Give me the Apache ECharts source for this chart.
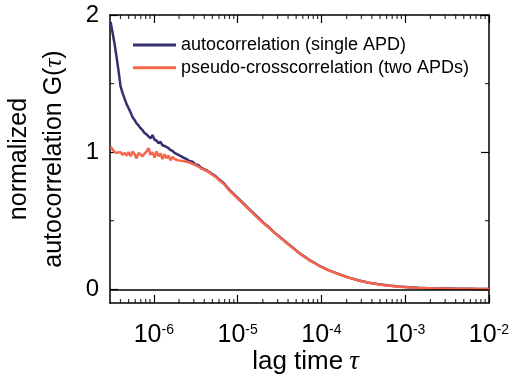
<!DOCTYPE html>
<html>
<head>
<meta charset="utf-8">
<script src="https://cdn.jsdelivr.net/npm/echarts@6/dist/echarts.min.js"></script>
<style>
html,body{margin:0;padding:0;background:#fff;}
#chart{width:512px;height:376px;}
</style>
</head>
<body>
<div id="chart"></div>
<script>
// lag time tau (s)
var tau = [
  3.05e-7, 3.22e-7, 3.40e-7, 3.60e-7, 3.80e-7, 4.01e-7, 4.24e-7, 4.48e-7, 4.73e-7, 5.00e-7,
  5.28e-7, 5.58e-7, 5.89e-7, 6.22e-7, 6.58e-7, 6.95e-7, 7.34e-7, 7.75e-7, 8.19e-7, 8.65e-7,
  9.14e-7, 9.65e-7, 1.019e-6, 1.077e-6, 1.137e-6, 1.202e-6, 1.269e-6, 1.341e-6, 1.416e-6, 1.496e-6,
  1.580e-6, 1.670e-6, 1.764e-6, 1.863e-6, 1.968e-6, 2.079e-6, 2.257e-6, 2.451e-6, 2.661e-6, 2.888e-6,
  3.136e-6, 3.405e-6, 3.698e-6, 4.014e-6, 4.358e-6, 4.732e-6, 5.137e-6, 5.577e-6, 6.055e-6,
  6.946e-6, 7.966e-6, 9.136e-6, 1.048e-5, 1.202e-5, 1.378e-5, 1.580e-5, 1.813e-5, 2.079e-5, 2.385e-5,
  2.735e-5, 3.137e-5, 3.597e-5, 4.125e-5, 4.732e-5, 5.427e-5, 6.224e-5, 7.139e-5, 8.187e-5, 9.389e-5,
  1.077e-4, 1.235e-4, 1.624e-4, 2.137e-4, 2.811e-4, 3.698e-4, 4.864e-4, 6.397e-4, 8.414e-4,
  1.107e-3, 1.456e-3, 1.915e-3, 2.519e-3, 3.313e-3, 4.358e-3, 5.732e-3, 7.541e-3, 1.0e-2
];
// autocorrelation (single APD)
var autoG = [
  1.95, 1.87, 1.79, 1.69, 1.59, 1.48, 1.43, 1.39, 1.35, 1.32,
  1.29, 1.255, 1.235, 1.21, 1.195, 1.175, 1.16, 1.14, 1.13, 1.115,
  1.10, 1.125, 1.09, 1.085, 1.065, 1.075, 1.05, 1.045, 1.035, 1.03,
  1.015, 1.01, 0.995, 0.99, 0.98, 0.972, 0.96, 0.95, 0.935, 0.93,
  0.91, 0.905, 0.885, 0.875, 0.865, 0.85, 0.835, 0.82, 0.80,
  0.77, 0.725, 0.69, 0.655, 0.62, 0.585, 0.55, 0.515, 0.48, 0.45,
  0.415, 0.385, 0.355, 0.325, 0.295, 0.265, 0.24, 0.215, 0.195, 0.172,
  0.155, 0.138, 0.11, 0.085, 0.064, 0.048, 0.036, 0.027, 0.02,
  0.015, 0.011, 0.008, 0.006, 0.005, 0.004, 0.003, 0.002, 0.002
];
// pseudo-crosscorrelation (two APDs)
var crossG = [
  1.04, 1.02, 1.00, 0.995, 0.99, 1.0, 0.98, 0.995, 0.975, 1.0,
  0.97, 1.005, 0.985, 0.955, 0.995, 1.0, 0.97, 0.99, 1.005, 1.03,
  0.98, 1.0, 0.96, 1.005, 0.97, 0.99, 0.95, 0.985, 0.955, 0.975,
  0.94, 0.965, 0.95, 0.955, 0.94, 0.945, 0.935, 0.93, 0.925, 0.915,
  0.905, 0.895, 0.88, 0.87, 0.86, 0.845, 0.83, 0.815, 0.795,
  0.765, 0.72, 0.685, 0.65, 0.615, 0.58, 0.545, 0.51, 0.478, 0.447,
  0.413, 0.382, 0.352, 0.322, 0.293, 0.263, 0.238, 0.213, 0.193, 0.17,
  0.153, 0.137, 0.109, 0.084, 0.063, 0.047, 0.035, 0.026, 0.019,
  0.014, 0.010, 0.008, 0.006, 0.004, 0.003, 0.003, 0.002, 0.002
];
var xMajorTicks = [1e-6, 1e-5, 1e-4, 1e-3, 1e-2];
var xMinorTicks = [
  4e-7, 5e-7, 6e-7, 7e-7, 8e-7, 9e-7,
  2e-6, 3e-6, 4e-6, 5e-6, 6e-6, 7e-6, 8e-6, 9e-6,
  2e-5, 3e-5, 4e-5, 5e-5, 6e-5, 7e-5, 8e-5, 9e-5,
  2e-4, 3e-4, 4e-4, 5e-4, 6e-4, 7e-4, 8e-4, 9e-4,
  2e-3, 3e-3, 4e-3, 5e-3, 6e-3, 7e-3, 8e-3, 9e-3
];
var yMajorTicks = [0, 1, 2];
var yMinorTicks = [0.5, 1.5];

var X_MIN = 3e-7, X_MAX = 1e-2, Y_MIN = -0.1, Y_MAX = 2;
var FONT = 'Liberation Sans, Arial, sans-serif';
function pairs(xs, ys){ return xs.map(function(x,i){ return [x, ys[i]]; }); }

function xAxisDef(pos, showLabel){
  return {
    type: 'log', logBase: 10, position: pos, min: X_MIN, max: X_MAX,
    axisLine: {show: true, onZero: false, lineStyle: {color: '#000', width: 1.5}},
    axisTick: {show: true, inside: true, length: 8, customValues: xMajorTicks, lineStyle: {color: '#000', width: 1.2}},
    axisLabel: showLabel ? {
      show: true, customValues: xMajorTicks, margin: 20,
      formatter: function(v){ var e = Math.round(Math.log10(v)); return '{b|10}{s|' + e + '}'; },
      rich: {
        b: {fontSize: 25, fontFamily: FONT, color: '#000'},
        s: {fontSize: 14, fontFamily: FONT, color: '#000', verticalAlign: 'top'}
      }
    } : {show: false},
    splitLine: {show: false}, minorTick: {show: false}
  };
}
function yAxisDef(pos, showLabel){
  return {
    type: 'value', position: pos, min: Y_MIN, max: Y_MAX,
    axisLine: {show: true, onZero: false, lineStyle: {color: '#000', width: 1.5}},
    axisTick: {show: true, inside: true, length: 8, customValues: yMajorTicks, lineStyle: {color: '#000', width: 1.2}},
    axisLabel: showLabel ? {show: true, customValues: yMajorTicks, margin: 11, fontSize: 24, fontFamily: FONT, color: '#000'} : {show: false},
    splitLine: {show: false}
  };
}

var yLeft = yAxisDef('left', true);
yLeft.name = '{a|normalized}\n{a|autocorrelation G(}{t|\u03C4}{a|)}';
yLeft.nameLocation = 'middle';
yLeft.nameRotate = 90;
yLeft.nameGap = 38;
yLeft.nameMoveOverlap = false;
yLeft.nameTextStyle = {
  lineHeight: 35,
  rich: {
    a: {fontSize: 25, fontFamily: FONT, color: '#000', lineHeight: 35},
    t: {fontSize: 25, fontFamily: 'Liberation Serif, serif', fontStyle: 'italic', color: '#000', lineHeight: 35}
  }
};

var xBottom = xAxisDef('bottom', true);
xBottom.name = '{a|lag time}{t|\u03C4}';
xBottom.nameLocation = 'middle';
xBottom.nameGap = 45;
xBottom.nameMoveOverlap = false;
xBottom.nameTextStyle = {
  rich: {
    a: {fontSize: 26, fontFamily: FONT, color: '#000', padding: [0,0,0,12]},
    t: {fontSize: 27, fontFamily: 'Liberation Serif, serif', fontStyle: 'italic', color: '#000', padding: [0,0,0,6]}
  }
};

function tickSeries(data, size, offset){
  return {
    type: 'scatter', silent: true, clip: false, z: 4,
    symbol: 'rect', symbolSize: size, symbolOffset: offset,
    itemStyle: {color: '#000'},
    data: data
  };
}

var option = {
  animation: false,
  backgroundColor: '#fff',
  grid: {left: 110, right: 23, top: 15, bottom: 73, containLabel: false, outerBoundsMode: 'none'},
  legend: {
    left: 133, top: 35, orient: 'vertical', itemWidth: 43, itemHeight: 3, itemGap: 2.7,
    padding: 0, icon: 'rect',
    textStyle: {fontSize: 18, fontFamily: FONT, color: '#000', lineHeight: 20},
    data: ['autocorrelation (single APD)', 'pseudo-crosscorrelation (two APDs)']
  },
  xAxis: [xBottom, xAxisDef('top', false)],
  yAxis: [yLeft, yAxisDef('right', false)],
  series: [
    {
      name: 'autocorrelation (single APD)', type: 'line', data: pairs(tau, autoG),
      showSymbol: false, symbol: 'none', color: '#34306e',
      lineStyle: {color: '#34306e', width: 2.5},
      markLine: {
        silent: true, symbol: 'none', label: {show: false},
        lineStyle: {color: '#000', width: 1.5, type: 'solid'},
        data: [{yAxis: 0}]
      },
      z: 2
    },
    {
      name: 'pseudo-crosscorrelation (two APDs)', type: 'line', data: pairs(tau, crossG),
      showSymbol: false, symbol: 'none', color: '#f8654b',
      lineStyle: {color: '#f8654b', width: 2.5},
      z: 3
    },
    // minor ticks (inside), placed through the axis scales
    tickSeries(xMinorTicks.map(function(v){ return [v, Y_MIN]; }), [1.2, 4], [0, -2]),
    tickSeries(xMinorTicks.map(function(v){ return [v, Y_MAX]; }), [1.2, 4], [0, 2]),
    tickSeries(yMinorTicks.map(function(v){ return [X_MIN, v]; }), [4, 1.2], [2, 0]),
    tickSeries(yMinorTicks.map(function(v){ return [X_MAX, v]; }), [4, 1.2], [-2, 0])
  ]
};
var chart = echarts.init(document.getElementById('chart'), null, {renderer: 'canvas'});
chart.setOption(option);
</script>
</body>
</html>
